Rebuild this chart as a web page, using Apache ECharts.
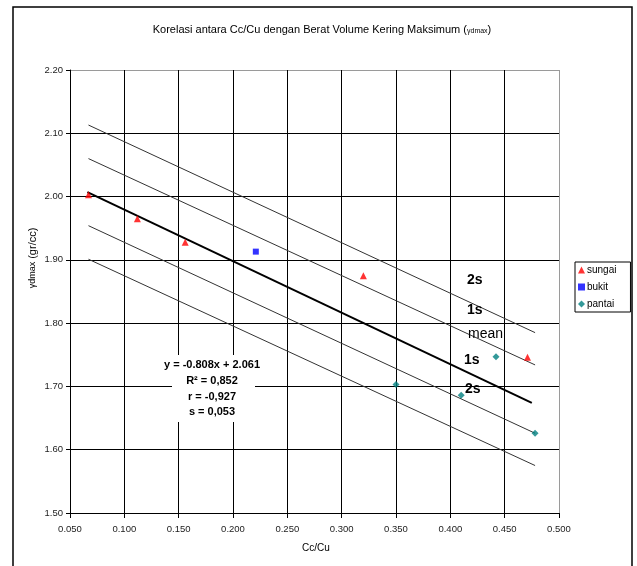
<!DOCTYPE html>
<html>
<head>
<meta charset="utf-8">
<script src="https://cdn.jsdelivr.net/npm/echarts@6/dist/echarts.min.js"></script>
<style>html,body{margin:0;padding:0;background:#fff;}#c{width:637px;height:566px;}</style>
</head>
<body>
<div id="c"></div>
<script>
// ---- data ----
const sungaiX = [0.067, 0.112, 0.156, 0.320, 0.471];
const sungaiY = [2.003, 1.965, 1.928, 1.875, 1.746];
const bukitX = [0.221];
const bukitY = [1.913];
const pantaiX = [0.350, 0.410, 0.442, 0.478];
const pantaiY = [1.703, 1.686, 1.747, 1.626];
// regression and ±s bands (start/end points)
const bandX = [0.067, 0.478];
const meanX = [0.066, 0.475];
const meanY = [2.007, 1.674];
const plus1Y = [2.060, 1.734];
const plus2Y = [2.113, 1.785];
const minus1Y = [1.954, 1.626];
const minus2Y = [1.901, 1.575];
const xTicks = ['0.050','0.100','0.150','0.200','0.250','0.300','0.350','0.400','0.450','0.500'];
const yTicks = ['1.50','1.60','1.70','1.80','1.90','2.00','2.10','2.20'];
const eqLines = ['y = -0.808x + 2.061', 'R\u00b2 = 0,852', 'r = -0,927', 's = 0,053'];
const bandLabels = ['2s', '1s', 'mean', '1s', '2s'];

const FONT = 'Liberation Sans, Arial, sans-serif';
const zip = (xs, ys) => xs.map((x, i) => [x, ys[i]]);

const chart = echarts.init(document.getElementById('c'), null, {renderer: 'canvas'});

function lineSeries(xs, ys, w, c) {
  return {
    type: 'line', data: zip(xs, ys), symbol: 'none', silent: true,
    lineStyle: {color: c, width: w}, z: 3
  };
}

const vColors = xTicks.map((t, i) => i === xTicks.length - 1 ? '#9a9a9a' : '#000');
const hColors = yTicks.map((t, i) => i === yTicks.length - 1 ? '#9a9a9a' : '#000');

const option = {
  animation: false,
  backgroundColor: '#fff',
  grid: {left: 70, right: 78, top: 70, bottom: 53, show: false},
  xAxis: {
    type: 'value', min: 0.05, max: 0.5, interval: 0.05,
    axisLine: {show: true, lineStyle: {color: '#000', width: 1}},
    axisTick: {show: true, length: 5, lineStyle: {color: '#000'}},
    axisLabel: {
      margin: 11, fontSize: 9.5, color: '#222', fontFamily: FONT,
      formatter: v => xTicks[Math.round((v - 0.05) / 0.05)]
    },
    splitLine: {show: true, lineStyle: {color: vColors, width: 1}}
  },
  yAxis: {
    type: 'value', min: 1.5, max: 2.2, interval: 0.1,
    axisLine: {show: true, lineStyle: {color: '#000', width: 1}},
    axisTick: {show: true, length: 4, lineStyle: {color: '#000'}},
    axisLabel: {
      margin: 7, fontSize: 9.5, color: '#222', fontFamily: FONT,
      formatter: v => yTicks[Math.round((v - 1.5) / 0.1)]
    },
    splitLine: {show: true, lineStyle: {color: hColors, width: 1}}
  },
  legend: {
    data: ['sungai', 'bukit', 'pantai'],
    orient: 'vertical', left: 575, top: 262,
    itemWidth: 7, itemHeight: 7, itemGap: 7,
    borderColor: '#000', borderWidth: 1, borderRadius: 0,
    padding: [3, 14, 3, 3],
    textStyle: {fontSize: 10, color: '#000', fontFamily: FONT, padding: [0, 0, 0, -3]}
  },
  series: [
    lineSeries(bandX, plus2Y, 1, '#333'),
    lineSeries(bandX, plus1Y, 1, '#333'),
    lineSeries(meanX, meanY, 2, '#000'),
    lineSeries(bandX, minus1Y, 1, '#333'),
    lineSeries(bandX, minus2Y, 1, '#333'),
    {name: 'sungai', type: 'scatter', symbol: 'triangle', symbolSize: 7,
     itemStyle: {color: '#ff0000'}, data: zip(sungaiX, sungaiY), z: 5},
    {name: 'bukit', type: 'scatter', symbol: 'rect', symbolSize: 6,
     itemStyle: {color: '#0000ff'}, data: zip(bukitX, bukitY), z: 5},
    {name: 'pantai', type: 'scatter', symbol: 'diamond', symbolSize: 7,
     itemStyle: {color: '#008080'}, data: zip(pantaiX, pantaiY), z: 5}
  ],
  graphic: [
    // outer frame
    {type: 'rect', shape: {x: 13, y: 7, width: 619, height: 570}, silent: true,
     style: {fill: null, stroke: '#000', lineWidth: 1.5}, z: 0},
    // title
    {type: 'text', x: 322, y: 30, silent: true,
     style: {text: 'Korelasi antara Cc/Cu dengan Berat Volume Kering Maksimum ({s|\u03b3dmax})',
       font: '11px ' + FONT, fill: '#000', align: 'center', verticalAlign: 'middle',
       rich: {s: {fontSize: 7, fontFamily: FONT, fill: '#000', padding: [3, 0, 0, 0]}}}},
    // y axis name
    {type: 'text', x: 33, y: 258, rotation: Math.PI / 2, silent: true,
     style: {text: '{s|\u03b3dmax} (gr/cc)', font: '11px ' + FONT, fill: '#000',
       align: 'center', verticalAlign: 'middle',
       rich: {s: {fontSize: 9, fontFamily: FONT, fill: '#000'}}}},
    // x axis name
    {type: 'text', x: 316, y: 548, silent: true,
     style: {text: 'Cc/Cu', font: '10px ' + FONT, fill: '#000', align: 'center', verticalAlign: 'middle'}},
    // equation box
    {type: 'rect', shape: {x: 172, y: 355, width: 83, height: 67}, silent: true,
     style: {fill: '#fff', stroke: null}, z: 50},
    {type: 'text', x: 212, y: 365, silent: true, z: 51,
     style: {text: eqLines[0], font: 'bold 11px ' + FONT, fill: '#000', align: 'center', verticalAlign: 'middle'}},
    {type: 'text', x: 212, y: 381, silent: true, z: 51,
     style: {text: eqLines[1], font: 'bold 11px ' + FONT, fill: '#000', align: 'center', verticalAlign: 'middle'}},
    {type: 'text', x: 212, y: 397, silent: true, z: 51,
     style: {text: eqLines[2], font: 'bold 11px ' + FONT, fill: '#000', align: 'center', verticalAlign: 'middle'}},
    {type: 'text', x: 212, y: 412, silent: true, z: 51,
     style: {text: eqLines[3], font: 'bold 11px ' + FONT, fill: '#000', align: 'center', verticalAlign: 'middle'}},
    // band labels
    {type: 'text', x: 467, y: 280, silent: true, z: 51,
     style: {text: bandLabels[0], font: 'bold 14px ' + FONT, fill: '#000', align: 'left', verticalAlign: 'middle'}},
    {type: 'text', x: 467, y: 310, silent: true, z: 51,
     style: {text: bandLabels[1], font: 'bold 14px ' + FONT, fill: '#000', align: 'left', verticalAlign: 'middle'}},
    {type: 'text', x: 468, y: 334, silent: true, z: 51,
     style: {text: bandLabels[2], font: '14px ' + FONT, fill: '#000', align: 'left', verticalAlign: 'middle'}},
    {type: 'text', x: 464, y: 360, silent: true, z: 51,
     style: {text: bandLabels[3], font: 'bold 14px ' + FONT, fill: '#000', align: 'left', verticalAlign: 'middle'}},
    {type: 'text', x: 465, y: 389, silent: true, z: 51,
     style: {text: bandLabels[4], font: 'bold 14px ' + FONT, fill: '#000', align: 'left', verticalAlign: 'middle'}}
  ]
};
chart.setOption(option);
</script>
</body>
</html>
